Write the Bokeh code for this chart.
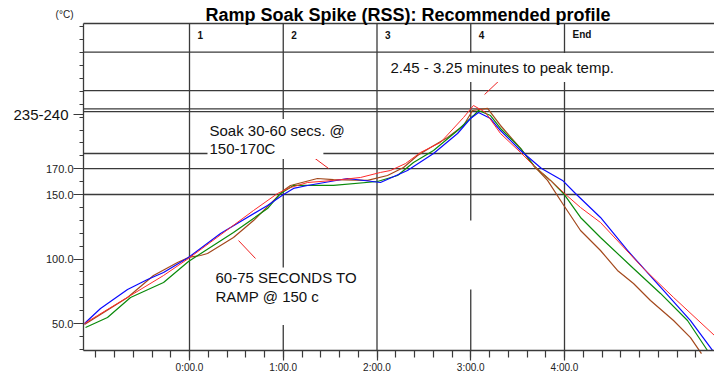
from bokeh.plotting import figure
from bokeh.models import Range1d, FixedTicker, Label, LinearAxis
from bokeh.embed import file_html
from bokeh.resources import INLINE

# ---------------- data (time in minutes, temperature in °C as drawn) ----------------
red_t = [-1.120, -0.981, -0.629, -0.277, -0.011, 0.437, 0.683, 0.939, 1.077, 1.259, 1.536, 1.824,
         2.037, 2.144, 2.304, 2.464, 2.677, 2.923, 3.029, 3.157, 3.317, 3.531, 3.680, 3.851, 4.000,
         4.171, 4.384, 4.843, 5.163, 5.600]
red_T = [50.0, 56.2, 71.7, 87.2, 100.4, 124.4, 137.6, 150.8, 155.4, 159.3, 160.9, 163.2,
         167.1, 168.6, 174.0, 182.6, 190.3, 209.7, 219.0, 213.6, 197.3, 182.6, 171.7, 160.9, 150.8,
         139.9, 128.3, 92.6, 70.2, 40.7]

blue_t = [-1.120, -0.949, -0.661, -0.448, -0.277, -0.011, 0.331, 0.832, 1.003, 1.109, 1.259, 1.685,
          2.037, 2.325, 2.603, 2.859, 2.997, 3.083, 3.211, 3.317, 3.531, 3.755, 3.979, 4.117,
          4.384, 4.672, 5.077, 5.344, 5.579]
blue_T = [50.0, 61.6, 76.4, 84.1, 89.5, 101.2, 119.8, 141.5, 150.0, 154.7, 157.0, 162.4,
          159.3, 168.6, 181.8, 197.3, 208.9, 213.6, 208.9, 199.6, 184.1, 170.2, 160.9, 150.8,
          132.2, 106.6, 74.0, 52.3, 29.1]

green_t = [-1.109, -0.875, -0.629, -0.277, -0.011, 0.469, 0.832, 0.971, 1.109, 1.536, 2.005, 2.219,
           2.389, 2.603, 2.859, 3.029, 3.083, 3.211, 3.317, 3.531, 3.680, 3.851, 3.989, 4.171,
           4.384, 4.736, 5.024, 5.312, 5.525]
green_T = [46.9, 54.7, 70.2, 81.8, 98.1, 120.5, 139.1, 150.8, 157.0, 157.0, 160.1, 164.7,
           174.8, 184.1, 199.6, 211.2, 215.1, 211.2, 201.2, 185.7, 171.7, 160.9, 150.8, 132.2,
           116.7, 92.6, 73.3, 52.3, 29.1]

brown_t = [-1.120, -0.661, -0.384, -0.128, -0.011, 0.117, 0.192, 0.331, 0.469, 0.683, 0.896, 1.003,
           1.077, 1.365, 1.536, 1.899, 2.112, 2.283, 2.432, 2.571, 2.752, 2.923, 3.019, 3.179,
           3.317, 3.531, 3.680, 3.819, 3.979, 4.171, 4.384, 4.565, 4.736, 4.917, 5.163, 5.344, 5.461]
brown_T = [49.2, 70.2, 87.2, 97.3, 101.2, 102.7, 104.3, 110.5, 116.7, 129.8, 145.3, 153.1,
           157.0, 162.4, 161.6, 160.9, 164.7, 170.9, 180.2, 186.4, 194.2, 203.5, 215.1, 216.7,
           203.5, 185.7, 171.7, 160.9, 143.0, 122.1, 106.6, 91.1, 81.0, 67.8, 52.3, 39.1, 26.7]

# axis ticks
x_ticks = [0, 1, 2, 3, 4]
x_tick_labels = ["0:00.0", "1:00.0", "2:00.0", "3:00.0", "4:00.0"]
x_minor_ticks = [-1.0, -0.8, -0.6, -0.4, -0.2, 0.0, 0.2, 0.4, 0.6, 0.8, 1.0, 1.2, 1.4, 1.6, 1.8,
                 2.0, 2.2, 2.4, 2.6, 2.8, 3.0, 3.2, 3.4, 3.6, 3.8, 4.0, 4.2, 4.4, 4.6, 4.8, 5.0,
                 5.2, 5.4]
y_ticks = [50, 100, 150, 170]
y_tick_labels = ["50.0", "100.0", "150.0", "170.0"]
y_minor_ticks = [30, 40, 50, 60, 70, 80, 90, 100, 110, 120, 130, 140, 150, 160, 170, 180, 190,
                 200, 210, 220, 230, 240, 250, 260, 270, 280]
peak_band_value = 212
peak_band_label = "235-240"

# zone boundaries and zone names
zone_x = [0, 1, 2, 3, 4]
zone_names = ["1", "2", "3", "4", "End"]
full_vlines = [0, 1, 2, 4]
hlines = [260.3, 230.6, 216.4, 214.3, 181.8, 170, 150]

# annotation pointer segments (red)
ptr_t0 = [1.109, 0.523, 3.339]
ptr_T0 = [190.3, 114.3, 240.7]
ptr_t1 = [1.483, 0.704, 3.147]
ptr_T1 = [170.2, 100.4, 227.5]

# plotting region (axes are drawn at fixed locations inside the full-canvas frame)
X0, X1 = -1.1307, 5.6          # left axis position / right edge
Y0, Y1 = 28.7, 282.56          # bottom axis position / top border
VX0, VX1 = -2.016, 5.6         # visible canvas range
VY0, VY1 = 9.69, 300.39

FONT = "Liberation Sans"
GRID = "#3a3a3a"

p = figure(width=714, height=375, x_range=Range1d(VX0, VX1), y_range=Range1d(VY0, VY1),
           output_backend="svg", toolbar_location=None,
           x_axis_location=None, y_axis_location=None,
           min_border_left=0, min_border_right=0, min_border_top=0, min_border_bottom=0)
p.outline_line_color = None
p.grid.visible = False
p.background_fill_color = "white"
p.border_fill_color = "white"

# grid / zone lines
p.segment(x0=full_vlines, y0=[Y0] * len(full_vlines), x1=full_vlines, y1=[Y1] * len(full_vlines),
          line_color=GRID, line_width=1.3, level="underlay")
p.segment(x0=[X0] * (len(hlines) + 1), y0=hlines + [Y1], x1=[X1] * (len(hlines) + 1), y1=hlines + [Y1],
          line_color=GRID, line_width=1.3, level="underlay")
p.segment(x0=[3, 3], y0=[129.8, Y0], x1=[3, 3], y1=[Y1, 76.4], line_color=GRID, line_width=1.3,
          level="underlay")

# curves
p.line(brown_t, brown_T, line_color="#a3481c", line_width=1.2)
p.line(green_t, green_T, line_color="#0a8a0a", line_width=1.2)
p.line(blue_t, blue_T, line_color="#0a0aff", line_width=1.2)
p.line(red_t, red_T, line_color="#ff2a2a", line_width=1.0)

# pointers
p.segment(x0=ptr_t0, y0=ptr_T0, x1=ptr_t1, y1=ptr_T1, line_color="#ee2222", line_width=1.0)

# axes
xa = LinearAxis(fixed_location=Y0, bounds=(X0, X1),
                ticker=FixedTicker(ticks=x_ticks, minor_ticks=x_minor_ticks))
xa.major_label_overrides = {k: v for k, v in zip(x_ticks, x_tick_labels)}
xa.axis_line_color = GRID
xa.axis_line_width = 1.3
xa.major_tick_line_color = GRID
xa.minor_tick_line_color = GRID
xa.major_tick_line_width = 1.2
xa.minor_tick_line_width = 1.2
xa.major_tick_in = 0
xa.major_tick_out = 10
xa.minor_tick_in = 0
xa.minor_tick_out = 7
xa.major_label_standoff = 1
xa.major_label_text_font = FONT
xa.major_label_text_font_size = "10px"
xa.major_label_text_color = "#222222"
p.add_layout(xa, "below")

overrides = {k: v for k, v in zip(y_ticks, y_tick_labels)}
overrides[peak_band_value] = ""
ya = LinearAxis(fixed_location=X0, bounds=(Y0, Y1),
                ticker=FixedTicker(ticks=y_ticks + [peak_band_value], minor_ticks=y_minor_ticks))
ya.major_label_overrides = overrides
ya.axis_line_color = GRID
ya.axis_line_width = 1.3
ya.major_tick_line_color = GRID
ya.minor_tick_line_color = GRID
ya.major_tick_in = 0
ya.major_tick_out = 10
ya.minor_tick_in = 0
ya.minor_tick_out = 4
ya.major_label_standoff = 0
ya.major_label_text_font = FONT
ya.major_label_text_font_size = "11px"
ya.major_label_text_color = "#222222"
p.add_layout(ya, "left")

# peak band label
p.add_layout(Label(x=X0, y=peak_band_value, x_offset=-15, text=peak_band_label, text_align="right",
                   text_baseline="middle", text_font=FONT, text_font_size="15px", text_color="#111111"))
# unit
p.add_layout(Label(x=X0, y=Y1, x_offset=-10, y_offset=9, text="(°C)", text_align="right",
                   text_baseline="middle", text_font=FONT, text_font_size="10px", text_color="#222222"))
# title
p.add_layout(Label(x=2.33, y=Y1, y_offset=9, text="Ramp Soak Spike (RSS): Recommended profile",
                   text_align="center", text_baseline="alphabetic", text_font=FONT,
                   text_font_size="18px", text_font_style="bold", text_color="#000000"))
# zone names
for zx, zn in zip(zone_x, zone_names):
    p.add_layout(Label(x=zx, y=Y1, x_offset=8, y_offset=-11, text=zn, text_align="left",
                       text_baseline="middle", text_font=FONT, text_font_size="10px",
                       text_font_style="bold", text_color="#111111"))

# callouts with white boxes
def callout(x, y, txt, pad):
    p.add_layout(Label(x=x, y=y, text=txt, text_align="left", text_baseline="middle",
                       text_font=FONT, text_font_size="15px", text_color="#111111",
                       background_fill_color="white", padding=pad))

callout(0.192, 185.7, "150-170C", dict(left=2, right=48, top=2, bottom=2))
callout(0.192, 199.6, "Soak 30-60 secs. @", dict(left=2, right=2, top=3, bottom=3))
callout(2.112, 248.4, "2.45 - 3.25 minutes to peak temp.", dict(left=3, right=3, top=6, bottom=6))
callout(0.256, 70.9, "RAMP @ 150 c", dict(left=2, right=40, top=20, bottom=20))
callout(0.256, 85.3, "60-75 SECONDS TO", dict(left=2, right=3, top=2, bottom=2))

open("out.html", "w").write(file_html(p, INLINE))
